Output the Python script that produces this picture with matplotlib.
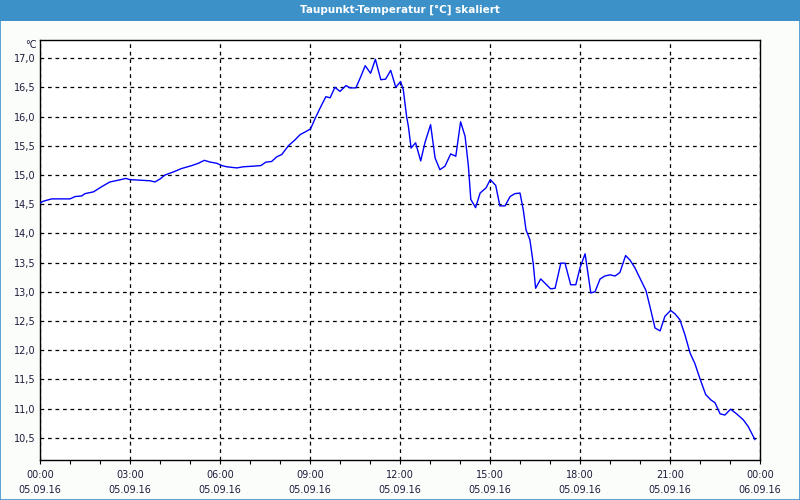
import matplotlib
matplotlib.use("Agg")
import matplotlib.pyplot as plt
from matplotlib.patches import Rectangle
from matplotlib.ticker import FixedLocator, MultipleLocator, FuncFormatter

# Stunden seit 05.09.16 00:00 und Taupunkt in °C
hours = [
    0.00, 0.11, 0.39, 0.78, 1.00, 1.17, 1.39, 1.50, 1.78, 2.06, 2.33, 2.61,
    2.86, 3.00, 3.33, 3.67, 3.83, 4.00, 4.17, 4.44, 4.72, 5.06, 5.28, 5.48,
    5.67, 5.89, 6.06, 6.22, 6.56, 6.78, 7.11, 7.36, 7.53, 7.72, 7.89, 8.06,
    8.28, 8.50, 8.67, 8.89, 9.02, 9.20, 9.39, 9.53, 9.67, 9.83, 10.00, 10.20,
    10.33, 10.53, 10.69, 10.84, 11.02, 11.18, 11.36, 11.52, 11.69, 11.86, 12.02, 12.11,
    12.22, 12.28, 12.37, 12.52, 12.69, 12.83, 13.02, 13.17, 13.33, 13.50, 13.69, 13.86,
    14.02, 14.17, 14.28, 14.36, 14.52, 14.67, 14.87, 15.01, 15.19, 15.33, 15.50, 15.67,
    15.83, 16.00, 16.11, 16.20, 16.33, 16.44, 16.52, 16.69, 17.02, 17.17, 17.36, 17.50,
    17.69, 17.86, 18.00, 18.17, 18.36, 18.50, 18.67, 18.83, 19.00, 19.17, 19.33, 19.52,
    19.67, 19.83, 20.00, 20.20, 20.33, 20.50, 20.67, 20.83, 21.02, 21.17, 21.33, 21.50,
    21.67, 21.83, 22.00, 22.19, 22.36, 22.50, 22.67, 22.83, 23.02, 23.22, 23.44, 23.61,
    23.83,
]
dewpoint = [
    14.52, 14.55, 14.59, 14.59, 14.59, 14.63, 14.64, 14.68, 14.71, 14.80, 14.88, 14.91,
    14.94, 14.92, 14.91, 14.90, 14.88, 14.93, 15.00, 15.05, 15.11, 15.16, 15.20, 15.25,
    15.22, 15.20, 15.16, 15.14, 15.12, 15.14, 15.15, 15.16, 15.22, 15.23, 15.31, 15.35,
    15.50, 15.60, 15.69, 15.75, 15.79, 16.00, 16.20, 16.34, 16.32, 16.50, 16.43, 16.53,
    16.49, 16.49, 16.68, 16.87, 16.74, 16.98, 16.63, 16.64, 16.79, 16.50, 16.60, 16.46,
    16.00, 15.83, 15.46, 15.55, 15.24, 15.55, 15.86, 15.29, 15.09, 15.15, 15.36, 15.32,
    15.91, 15.66, 15.15, 14.58, 14.44, 14.69, 14.78, 14.92, 14.82, 14.47, 14.47, 14.63,
    14.68, 14.69, 14.40, 14.06, 13.89, 13.49, 13.06, 13.22, 13.05, 13.06, 13.49, 13.49,
    13.12, 13.12, 13.41, 13.65, 12.98, 13.00, 13.22, 13.27, 13.29, 13.27, 13.33, 13.62,
    13.54, 13.41, 13.23, 13.02, 12.75, 12.38, 12.33, 12.58, 12.68, 12.62, 12.52, 12.26,
    11.95, 11.77, 11.51, 11.24, 11.15, 11.10, 10.91, 10.89, 10.99, 10.91, 10.81, 10.69,
    10.47,
]

x_ticks = [0, 3, 6, 9, 12, 15, 18, 21, 24]
x_labels = ["00:00\n05.09.16", "03:00\n05.09.16", "06:00\n05.09.16", "09:00\n05.09.16",
            "12:00\n05.09.16", "15:00\n05.09.16", "18:00\n05.09.16", "21:00\n05.09.16",
            "00:00\n06.09.16"]
y_ticks = [10.5, 11.0, 11.5, 12.0, 12.5, 13.0, 13.5, 14.0, 14.5, 15.0, 15.5, 16.0, 16.5, 17.0]

title = "Taupunkt-Temperatur [°C] skaliert"
bar_blue = "#3d91c9"
label_col = "#1c1c3c"

fig = plt.figure(figsize=(8, 5), dpi=100, facecolor="#fbfdfb")

# Titelleiste und Rahmen
fig.patches.append(Rectangle((0, 1 - 21 / 500), 1, 21 / 500, transform=fig.transFigure,
                             facecolor=bar_blue, edgecolor="none", zorder=0))
fig.patches.append(Rectangle((0.0006, 0.001), 0.9988, 0.998, transform=fig.transFigure,
                             facecolor="none", edgecolor=bar_blue, lw=1.2, zorder=1))
fig.text(0.5, 1 - 10 / 500, title, ha="center", va="center", color="white",
         fontsize=7.5, fontweight="bold")

ax = fig.add_axes([40 / 800, 40 / 500, 720 / 800, 420 / 500])
ax.set_facecolor("white")
ax.plot(hours, dewpoint, color="#0000ff", lw=1.0, zorder=3)

ax.set_xlim(0, 24)
ax.set_ylim(10.12, 17.31)

ax.xaxis.set_major_locator(FixedLocator(x_ticks))
ax.set_xticks(x_ticks)
ax.set_xticklabels(x_labels, fontsize=7, color=label_col, linespacing=1.65)
ax.xaxis.set_minor_locator(MultipleLocator(1))
ax.tick_params(axis="x", which="both", direction="out", length=3, width=0.8,
               color="black", pad=4)

ax.set_yticks(y_ticks)
ax.yaxis.set_major_formatter(FuncFormatter(lambda v, p: f"{v:.1f}".replace(".", ",")))
ax.tick_params(axis="y", length=0, labelsize=7, labelcolor=label_col, pad=3)

ax.grid(True, which="major", color="black", linestyle=(0, (3, 3)), linewidth=0.9)
for s in ax.spines.values():
    s.set_color("black")
    s.set_linewidth(1.0)

fig.text(37 / 800, 1 - 45 / 500, "°C", ha="right", va="center", fontsize=7, color=label_col)

fig.savefig("out.png", dpi=100, facecolor=fig.get_facecolor())
